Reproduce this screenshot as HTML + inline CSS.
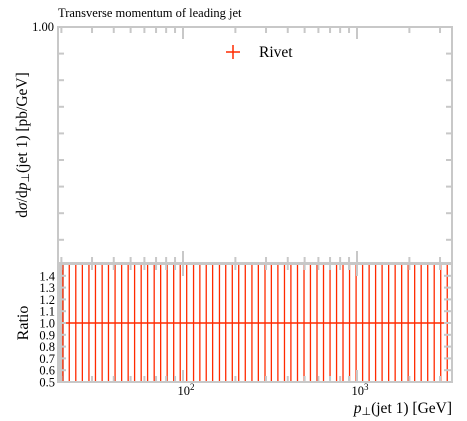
<!DOCTYPE html>
<html><head><meta charset="utf-8"><style>
html,body{margin:0;padding:0;background:#fff;}
svg{display:block;font-family:"Liberation Serif",serif;}
</style></head><body>
<svg id="chart" width="467" height="421" viewBox="0 0 467 421" xmlns="http://www.w3.org/2000/svg">
<text x="58" y="17" font-size="12.5">Transverse momentum of leading jet</text>
<g id="upper"></g>
<g id="ratio"></g>
<text transform="translate(27,145) rotate(-90)" text-anchor="middle" font-size="15.5"><tspan>d</tspan><tspan font-style="italic">σ</tspan><tspan>/d</tspan><tspan font-style="italic">p</tspan><tspan font-size="11" dy="2">⊥</tspan><tspan dy="-2">(jet 1) [pb/GeV]</tspan></text>
<text transform="translate(28,323) rotate(-90)" text-anchor="middle" font-size="16">Ratio</text>
<text x="452" y="413" text-anchor="end" font-size="15.5"><tspan font-style="italic">p</tspan><tspan font-size="11" dy="2">⊥</tspan><tspan dy="-2">(jet 1) [GeV]</tspan></text>
<g>
<line x1="226" y1="52" x2="240" y2="52" stroke="#ff2a00" stroke-width="1.5"/>
<line x1="233" y1="45" x2="233" y2="59" stroke="#ff2a00" stroke-width="1.5"/>
<text x="259" y="57" font-size="15.5">Rivet</text>
</g>
</svg>
<script>
const binCenters = [20.4, 22.2, 24.2, 26.4, 28.8, 31.4, 34.3, 37.3, 40.7, 44.4, 48.4, 52.7, 57.5, 62.6, 68.3, 74.4, 81.1, 88.4, 96.4, 105, 115, 125, 136, 148, 162, 176, 192, 209, 228, 249, 271, 296, 322, 351, 383, 417, 455, 496, 540, 589, 642, 700, 763, 831, 906, 988, 1077, 1174, 1279, 1394, 1520, 1657, 1806, 1968, 2145, 2338, 2549, 2778, 3028, 3301];
const ratioValues = binCenters.map(() => 1.0);
const ratioErrLow = binCenters.map(() => 0.0);
const ratioErrHigh = binCenters.map(() => 2.0);
const ratioTicks = [0.5,0.6,0.7,0.8,0.9,1.0,1.1,1.2,1.3,1.4];
const ratioTickLabels = ["0.5","0.6","0.7","0.8","0.9","1.0","1.1","1.2","1.3","1.4"];
const xMinorTicks = [20,30,40,50,60,70,80,90,200,300,400,500,600,700,800,900,2000,3000];
const xMajorTicks = [100,1000];
const xMajorLabels = ["2","3"];
const yTopLabel = "1.00";

const NS="http://www.w3.org/2000/svg";
const L=58,R=452,T=27,MB=263,RT=264,RB=382;
const x = v => 183 + 174*(Math.log10(v)-2);
const yr = v => RB - (v-0.5)*(RB-RT);
function mk(tag, attrs, parent){const e=document.createElementNS(NS,tag);for(const k in attrs)e.setAttribute(k,attrs[k]);parent.appendChild(e);return e;}
const up=document.getElementById('upper'), ra=document.getElementById('ratio');
const G="#c8c8c8";
let f=mk('rect',{x:L,y:T,width:R-L,height:MB-T,fill:'none',stroke:G,'stroke-width':2},up);


for(let i=0;i<9;i++){const yy=T+i*26.6;
 let t=mk('line',{x1:L,y1:yy,x2:L+6,y2:yy,stroke:G,'stroke-width':2},up);
 
 
 let t2=mk('line',{x1:R-6,y1:yy,x2:R,y2:yy,stroke:G,'stroke-width':2},up);
 
 }
let yl=mk('text',{x:54,y:T+4,'text-anchor':'end','font-size':12.5},up);yl.textContent=yTopLabel;


function xticks(par,top,bot){
 xMinorTicks.forEach(v=>{[[top,top+6],[bot-6,bot]].forEach(([a,b])=>{let t=mk('line',{x1:x(v),y1:a,x2:x(v),y2:b,stroke:G,'stroke-width':2},par);
 
 });});
 xMajorTicks.forEach(v=>{[[top,top+12],[bot-12,bot]].forEach(([a,b])=>{let t=mk('line',{x1:x(v),y1:a,x2:x(v),y2:b,stroke:G,'stroke-width':2},par);
 
 });});
}
xticks(up,T,MB);
let dense=mk('rect',{x:L,y:RT,width:6,height:RB-RT,fill:'#c8c8c8'},ra);


binCenters.forEach((c,i)=>{
 const y1=Math.max(RT,yr(ratioValues[i]+ratioErrHigh[i])), y2=Math.min(RB,yr(ratioValues[i]-ratioErrLow[i]-1));
 let l=mk('line',{x1:x(c),y1:y1,x2:x(c),y2:y2,stroke:'#ff2a00','stroke-width':1.3},ra);
 
 
});
let rl=mk('line',{x1:L,y1:yr(1),x2:R,y2:yr(1),stroke:'#ff2a00','stroke-width':1.5},ra);


let rf=mk('rect',{x:L,y:RT,width:R-L,height:RB-RT,fill:'none',stroke:G,'stroke-width':2},ra);


xticks(ra,RT,RB);
ratioTicks.forEach((v,i)=>{
 let t=mk('line',{x1:L,y1:yr(v),x2:L+8,y2:yr(v),stroke:G,'stroke-width':2},ra);
 
 
 let t2=mk('line',{x1:R-8,y1:yr(v),x2:R,y2:yr(v),stroke:G,'stroke-width':2},ra);
 
 
 let tx=mk('text',{x:55,y:yr(v)+4.5,'text-anchor':'end','font-size':12.5},ra);tx.textContent=ratioTickLabels[i];
 
 
});
xMajorTicks.forEach((v,i)=>{
 let tx=mk('text',{x:x(v)+3,y:395,'text-anchor':'middle','font-size':12.5},ra);
 
 
 const a=document.createElementNS(NS,'tspan');a.textContent='10';tx.appendChild(a);
 const b=document.createElementNS(NS,'tspan');b.setAttribute('font-size','9');b.setAttribute('dy','-5');b.textContent=xMajorLabels[i];tx.appendChild(b);
});
</script>
</body></html>
